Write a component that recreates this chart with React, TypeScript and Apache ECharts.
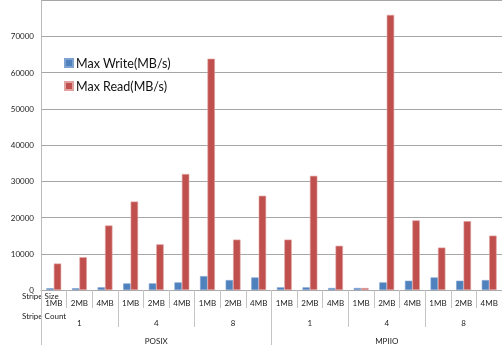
import React, { useEffect, useRef } from "react";
import * as echarts from "echarts";

const stripeSizes = [
  "1MB", "2MB", "4MB", "1MB", "2MB", "4MB", "1MB", "2MB", "4MB",
  "1MB", "2MB", "4MB", "1MB", "2MB", "4MB", "1MB", "2MB", "4MB",
];
const stripeCounts = ["1", "4", "8", "1", "4", "8"];
const apis = ["POSIX", "MPIIO"];
const maxWrite = [
  500, 500, 750, 1830, 1830, 2100, 3830, 2740, 3470,
  740, 740, 550, 550, 2100, 2560, 3470, 2560, 2740,
];
const maxRead = [
  7300, 9040, 17800, 24400, 12600, 32000, 63800, 13900, 26000,
  13900, 31500, 12200, 550, 75900, 19200, 11700, 19000, 15000,
];
const yTicks = [0, 80000, 10000];

const FONT = "Lato, 'DejaVu Sans', sans-serif";

export default function App() {
  const ref = useRef<HTMLDivElement>(null);
  useEffect(() => {
    if (!ref.current) return;
    const chart = echarts.init(ref.current, undefined, { renderer: "svg" });
    const tickStyle = { color: "#c4c4c4", width: 1 };
    chart.setOption({
      animation: false,
      grid: { left: 41, right: -3, top: -2, bottom: 55, containLabel: false },
      legend: {
        orient: "vertical",
        left: 64,
        top: 55,
        padding: 0,
        itemWidth: 8,
        itemHeight: 8,
        itemGap: 7,
        icon: "rect",
        textStyle: {
          fontFamily: FONT,
          fontSize: 12.5,
          color: "#111",
          lineHeight: 16,
          padding: [0, 0, 0, -2],
        },
        data: ["Max Write(MB/s)", "Max Read(MB/s)"],
      },
      xAxis: [
        {
          type: "category",
          data: stripeSizes,
          position: "bottom",
          axisLine: { show: true, lineStyle: { color: "#aaa" } },
          axisTick: { show: true, interval: 0, length: 18, lineStyle: tickStyle },
          axisLabel: { interval: 0, margin: 9, fontSize: 8, fontFamily: FONT, color: "#222" },
          splitLine: { show: false },
        },
        {
          type: "category",
          data: stripeCounts,
          position: "bottom",
          axisLine: { show: false },
          axisTick: { show: true, interval: 0, length: 37, lineStyle: tickStyle },
          axisLabel: { interval: 0, margin: 29, fontSize: 8, fontFamily: FONT, color: "#222" },
          splitLine: { show: false },
        },
        {
          type: "category",
          data: apis,
          position: "bottom",
          axisLine: { show: false },
          axisTick: { show: true, interval: 0, length: 60, lineStyle: tickStyle },
          axisLabel: { interval: 0, margin: 47, fontSize: 8, fontFamily: FONT, color: "#222" },
          splitLine: { show: false },
        },
      ],
      yAxis: {
        type: "value",
        min: yTicks[0],
        max: yTicks[1],
        interval: yTicks[2],
        axisLine: { show: true, lineStyle: { color: "#bbb" } },
        axisTick: { show: false },
        axisLabel: {
          margin: 7,
          fontSize: 8,
          fontFamily: FONT,
          color: "#222",
          formatter: (v: number) => (v >= yTicks[1] ? "" : String(v)),
        },
        splitLine: { show: true, lineStyle: { color: "#a6a6a6", width: 1 } },
      },
      graphic: [
        {
          type: "text",
          left: 22,
          top: 292,
          style: { text: "Stripe Size", fontFamily: FONT, fontSize: 8, fill: "#222" },
        },
        {
          type: "text",
          left: 22,
          top: 312,
          style: { text: "Stripe Count", fontFamily: FONT, fontSize: 8, fill: "#222" },
        },
      ],
      series: [
        {
          name: "Max Write(MB/s)",
          type: "bar",
          xAxisIndex: 0,
          data: maxWrite,
          barGap: "0%",
          barCategoryGap: "42%",
          itemStyle: { color: "#4F81BD", borderColor: "#7fa3d0", borderWidth: 0.6 },
        },
        {
          name: "Max Read(MB/s)",
          type: "bar",
          xAxisIndex: 0,
          data: maxRead,
          barGap: "0%",
          barCategoryGap: "42%",
          itemStyle: { color: "#C0504D", borderColor: "#e0a3a1", borderWidth: 0.6 },
        },
      ],
    });
    return () => chart.dispose();
  }, []);
  return <div ref={ref} style={{ width: 502, height: 345, position: "fixed", left: 0, top: 0 }} />;
}
